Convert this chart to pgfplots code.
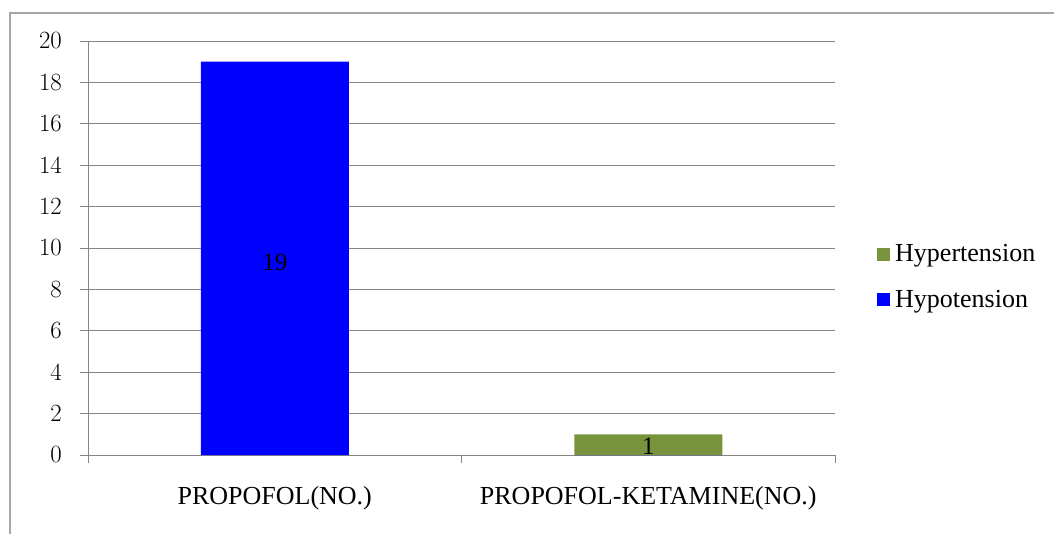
\documentclass[border=0pt]{standalone}
\usepackage{fontspec}
\setmainfont{Liberation Serif}
\usepackage{pgfplots}
\pgfplotsset{compat=1.18}
\definecolor{barblue}{HTML}{0000FF}
\definecolor{bargreen}{HTML}{77933C}
\definecolor{gridgray}{HTML}{868686}
\definecolor{framegray}{HTML}{A6A6A6}
\newcommand{\chartfont}{\fontsize{25bp}{29bp}\selectfont}
\newcommand{\labelfont}{\fontsize{26bp}{30bp}\selectfont}
\begin{document}
\begin{tikzpicture}
\begin{axis}[
  at={(88bp,-455bp)}, anchor=south west,
  scale only axis, width=747bp, height=414bp,
  xmin=-0.5, xmax=1.5, ymin=0, ymax=20,
  ybar, bar width=148bp, bar shift=0pt,
  axis x line*=bottom, axis y line*=left,
  axis line style={draw=gridgray, line width=1bp, -},
  ytick={0,2,...,20},
  ymajorgrids, grid style={draw=gridgray, line width=1bp},
  xtick={0,1}, xticklabels={PROPOFOL(NO.), PROPOFOL-KETAMINE(NO.)},
  minor xtick={-0.5,0.5,1.5},
  tick align=outside, major tick length=8bp, minor tick length=8bp,
  tick style={draw=gridgray, line width=1bp},
  major x tick style={draw=none},
  minor x tick style={draw=gridgray, line width=1bp},
  tick label style={font=\chartfont, text=black},
  yticklabel style={inner sep=0pt, xshift=-18bp},
  xticklabel style={inner sep=0pt, yshift=-23bp, font=\labelfont},
  legend style={at={(axis description cs:1.0562,0.43)}, anchor=west, draw=none, fill=none, inner sep=0pt, row sep=27bp, column sep=5bp, font=\labelfont, nodes={inner sep=0pt}},
  legend cell align=left,
  legend image code/.code={\fill[#1] (0bp,-6.5bp) rectangle (13bp,6.5bp);},
]
\addplot[fill=bargreen, draw=none] coordinates {(0,0) (1,1)};
\addlegendentry{Hypertension}
\addplot[fill=barblue, draw=none] coordinates {(0,19) (1,0)};
\addlegendentry{Hypotension}
\addplot[draw=none, fill=none, forget plot, nodes near coords, point meta=explicit symbolic,
  every node near coord/.style={anchor=center, font=\chartfont, text=black}]
  table[meta=label, row sep=\\] {x y label\\ 0 9.3 19\\ 1 0.4 1\\};
\end{axis}
\draw[framegray, line width=2bp] (10bp,-600bp) -- (10bp,-13bp) -- (1100bp,-13bp);
\pgfresetboundingbox
\useasboundingbox (0,0) rectangle (1054bp,-534bp);
\end{tikzpicture}
\end{document}
